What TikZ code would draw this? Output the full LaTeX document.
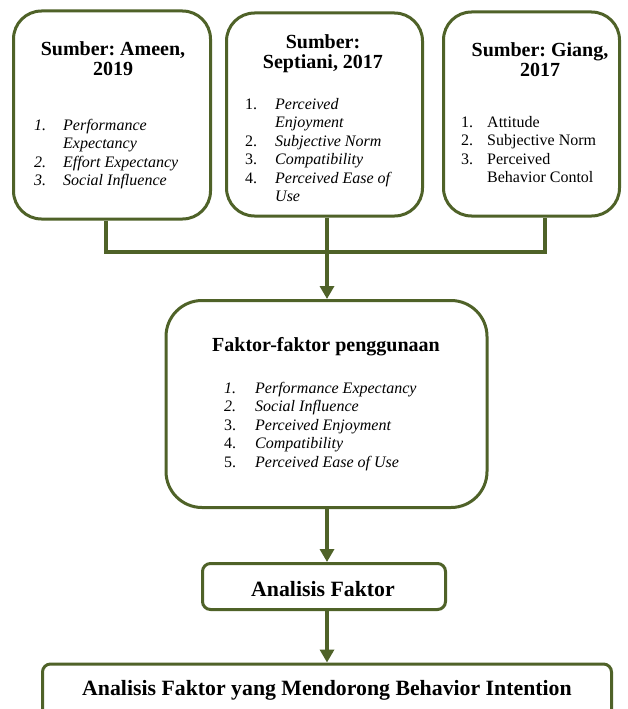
\documentclass[tikz,border=0pt]{standalone}
\usepackage{fontspec}
\setmainfont{Liberation Serif}
\usetikzlibrary{arrows.meta}
\definecolor{boxgreen}{RGB}{79,98,40}
\frenchspacing
\begin{document}
\begin{tikzpicture}[x=1pt,y=-1pt,
  box/.style={draw=boxgreen, line width=3pt, rounded corners=28pt, fill=white, inner sep=0pt},
  smallbox/.style={box, rounded corners=8pt},
  link/.style={draw=boxgreen, line width=4pt},
  arr/.style={link, -{Triangle[width=14pt,length=13pt]}},
  title/.style={font=\fontsize{20}{20}\selectfont\bfseries\frenchspacing, align=center, inner sep=0pt},
  bigtitle/.style={title, font=\fontsize{21.8}{22}\selectfont\bfseries\frenchspacing},
  lst/.style={font=\fontsize{16}{18.5}\selectfont, inner sep=0pt, anchor=north west}]
\clip (0,0) rectangle (627,709);
\fill[white] (0,0) rectangle (627,709);
% boxes
\node[box, minimum width=197pt, minimum height=208pt] (b1) at (112,115) {};
\node[box, minimum width=196pt, minimum height=203pt] (b2) at (324.5,114.5) {};
\node[box, minimum width=176pt, minimum height=204pt] (b3) at (531.5,114) {};
\node[box, rounded corners=36pt, minimum width=321pt, minimum height=207pt] (b4) at (326.5,404) {};
\node[smallbox, minimum width=243pt, minimum height=46pt] (b5) at (324,586.5) {};
\node[smallbox, minimum width=569pt, minimum height=80pt] (b6) at (327,704) {};
% titles
\node[title] (t1) at (113,59) {Sumber: Ameen,\\2019};
\node[title] (t2) at (323,54) {Sumber:\\Septiani, 2017};
\node[title] (t3) at (540,60) {Sumber: Giang,\\2017};
\node[title] (t4) at (326,347) {Faktor-faktor penggunaan};
\node[bigtitle] (t5) at (323,589) {Analisis Faktor};
\node[bigtitle] (t6) at (327,690) {Analisis Faktor yang Mendorong Behavior Intention};
% lists
\node[lst] (l1) at (34,117) {\itshape\begin{tabular}{@{}p{29pt}@{}l@{}}
1. & Performance\\
 & Expectancy\\
2. & Effort Expectancy\\
3. & Social Influence
\end{tabular}};
\node[lst] (l2) at (245,96) {\begin{tabular}{@{}p{30pt}@{}l@{}}
1. & \itshape Perceived\\
 & \itshape Enjoyment\\
2. & \itshape Subjective Norm\\
3. & \itshape Compatibility\\
4. & \itshape Perceived Ease of\\
 & \itshape Use
\end{tabular}};
\node[lst] (l3) at (461,114) {\begin{tabular}{@{}p{26pt}@{}l@{}}
1. & Attitude\\
2. & Subjective Norm\\
3. & Perceived\\
 & Behavior Contol
\end{tabular}};
\node[lst] (l4) at (224,380) {\begin{tabular}{@{}p{31pt}@{}l@{}}
\itshape 1. & \itshape Performance Expectancy\\
\itshape 2. & \itshape Social Influence\\
3. & \itshape Perceived Enjoyment\\
4. & \itshape Compatibility\\
5. & \itshape Perceived Ease of Use
\end{tabular}};
% connectors
\coordinate (j1) at (106,252);
\coordinate (j3) at (545,252);
\coordinate (jm) at (327,252);
\draw[link] ([xshift=-6pt]b1.south) -- (j1) -- (j3) -- ([xshift=13.5pt]b3.south);
\draw[link] (b2.south -| jm) -- (jm);
\draw[arr] (jm) -- (b4.north -| jm);
\draw[arr] (b4.south -| jm) -- (b5.north -| jm);
\draw[arr] (b5.south -| jm) -- (b6.north -| jm);
\end{tikzpicture}
\end{document}
